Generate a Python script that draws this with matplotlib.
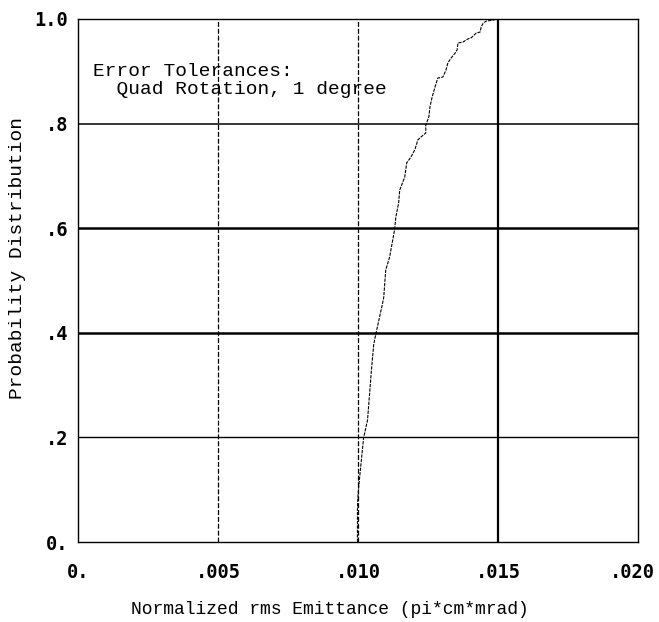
import matplotlib
matplotlib.use("Agg")
import matplotlib.pyplot as plt
from matplotlib.transforms import ScaledTranslation

# Data (cumulative probability vs emittance)
emittance = [0.00998, 0.00998, 0.01000, 0.01005, 0.01020, 0.01034, 0.01041, 0.01048,
             0.01056, 0.01063, 0.01088, 0.01092, 0.01099, 0.01113, 0.01131, 0.01135,
             0.01145, 0.01149, 0.01167, 0.01174, 0.01189, 0.01203, 0.01214, 0.01224,
             0.01242, 0.01242, 0.01253, 0.01257, 0.01264, 0.01275, 0.01285, 0.01303,
             0.01314, 0.01321, 0.01332, 0.01347, 0.01354, 0.01357, 0.01375, 0.01393,
             0.01404, 0.01422, 0.01436, 0.01440, 0.01447, 0.01458, 0.01483, 0.01497]
probability = [0.0, 0.061, 0.09, 0.119, 0.199, 0.233, 0.281, 0.329,
               0.377, 0.396, 0.457, 0.468, 0.520, 0.545, 0.598, 0.621,
               0.648, 0.673, 0.698, 0.725, 0.736, 0.750, 0.769, 0.774,
               0.782, 0.797, 0.813, 0.832, 0.849, 0.870, 0.887, 0.889,
               0.902, 0.916, 0.925, 0.935, 0.941, 0.954, 0.956, 0.962,
               0.964, 0.973, 0.975, 0.985, 0.992, 0.996, 0.998, 1.0]

x_ticks = [0.0, 0.005, 0.010, 0.015, 0.020]
x_tick_labels = ["0.", ".005", ".010", ".015", ".020"]
y_ticks = [0.0, 0.2, 0.4, 0.6, 0.8, 1.0]
y_tick_labels = ["0.", ".2", ".4", ".6", ".8", "1.0"]

x_label = "Normalized rms Emittance (pi*cm*mrad)"
y_label = "Probability Distribution"
note_lines = ["Error Tolerances:", "  Quad Rotation, 1 degree"]

W, H = 659, 622
fig = plt.figure(figsize=(W / 100, H / 100), dpi=100)
left, right, top, bottom = 78, 638, 19, 542
ax = fig.add_axes([left / W, 1 - bottom / H, (right - left) / W, (bottom - top) / H])

ax.set_xlim(0, 0.020)
ax.set_ylim(0, 1.0)

# grid lines
ygrid_w = {0.2: 1.0, 0.4: 1.8, 0.6: 1.8, 0.8: 1.1}
for yv, lw in ygrid_w.items():
    ax.axhline(yv, color="black", lw=lw, zorder=1)
xgrid_style = {0.005: (0.9, (0, (4, 1.5))), 0.010: (0.9, (0, (4, 1.5))), 0.015: (1.6, "-")}
for xv, (lw, ls) in xgrid_style.items():
    ax.axvline(xv, color="black", lw=lw, ls=ls, zorder=1)

ax.plot(emittance, probability, color="black", lw=0.8, ls=(0, (3, 1)), zorder=3)

for s in ax.spines.values():
    s.set_linewidth(1.0)
    s.set_color("black")

mono_bold = {"family": "DejaVu Sans Mono", "weight": "bold", "size": 13.5}
ax.set_xticks(x_ticks)
ax.set_xticklabels(x_tick_labels, fontdict=mono_bold)
ax.set_yticks(y_ticks)
ax.set_yticklabels(y_tick_labels, fontdict=mono_bold)
ax.tick_params(axis="x", length=0, pad=15)
ax.tick_params(axis="y", length=0, pad=7)
for lbl in ax.get_yticklabels():
    lbl.set_verticalalignment("center_baseline")
# keep the last x label inside the figure
last = ax.get_xticklabels()[-1]
last.set_transform(last.get_transform() + ScaledTranslation(-6 / 100, 0, fig.dpi_scale_trans))

fig.text(330 / W, 1 - 610 / H, x_label, family="Liberation Mono", fontsize=13,
         ha="center", va="center")
fig.text(18 / W, 1 - 258 / H, y_label, family="Liberation Mono", fontsize=14,
         ha="center", va="center", rotation=90)

for i, line in enumerate(note_lines):
    fig.text(93 / W, 1 - (71 + 18.5 * i) / H, line, family="Liberation Mono",
             fontsize=14, ha="left", va="center")

fig.savefig("out.png", dpi=100)
